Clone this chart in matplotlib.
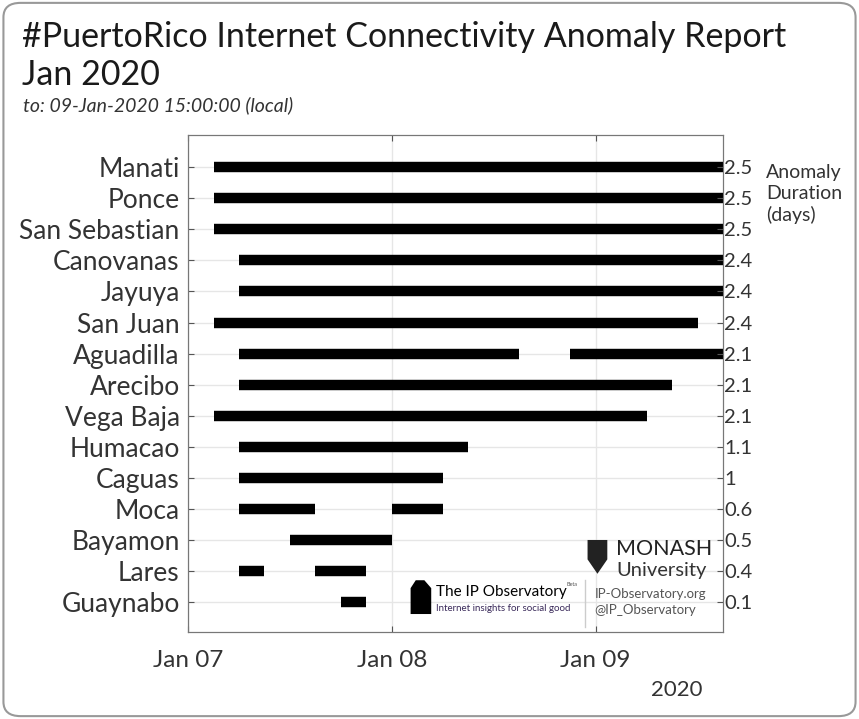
import matplotlib
matplotlib.use("Agg")
import matplotlib.pyplot as plt
import matplotlib.dates as mdates
from matplotlib.patches import FancyBboxPatch, Polygon
from datetime import datetime

plt.rcParams['font.family'] = ['Lato', 'DejaVu Sans']

# towns, top to bottom
cities = ["Manati", "Ponce", "San Sebastian", "Canovanas", "Jayuya", "San Juan",
          "Aguadilla", "Arecibo", "Vega Baja", "Humacao", "Caguas", "Moca",
          "Bayamon", "Lares", "Guaynabo"]

# anomaly periods (local time)
segments = [
    [("2020-01-07 03:00", "2020-01-09 15:00")],
    [("2020-01-07 03:00", "2020-01-09 15:00")],
    [("2020-01-07 03:00", "2020-01-09 15:00")],
    [("2020-01-07 06:00", "2020-01-09 15:00")],
    [("2020-01-07 06:00", "2020-01-09 15:00")],
    [("2020-01-07 03:00", "2020-01-09 12:00")],
    [("2020-01-07 06:00", "2020-01-08 15:00"), ("2020-01-08 21:00", "2020-01-09 15:00")],
    [("2020-01-07 06:00", "2020-01-09 09:00")],
    [("2020-01-07 03:00", "2020-01-09 06:00")],
    [("2020-01-07 06:00", "2020-01-08 09:00")],
    [("2020-01-07 06:00", "2020-01-08 06:00")],
    [("2020-01-07 06:00", "2020-01-07 15:00"), ("2020-01-08 00:00", "2020-01-08 06:00")],
    [("2020-01-07 12:00", "2020-01-08 00:00")],
    [("2020-01-07 06:00", "2020-01-07 09:00"), ("2020-01-07 15:00", "2020-01-07 21:00")],
    [("2020-01-07 18:00", "2020-01-07 21:00")],
]

durations = ["2.5", "2.5", "2.5", "2.4", "2.4", "2.4", "2.1", "2.1", "2.1",
             "1.1", "1", "0.6", "0.5", "0.4", "0.1"]

x_start = "2020-01-07 00:00"
x_end = "2020-01-09 15:00"

fmt = "%Y-%m-%d %H:%M"
txt = "#333333"

fig = plt.figure(figsize=(8.59, 7.19), dpi=100)
fig.patches.append(FancyBboxPatch((0.004, 0.004), 0.992, 0.992,
                                  boxstyle="round,pad=0,rounding_size=0.02",
                                  transform=fig.transFigure, fill=False,
                                  edgecolor="#999999", linewidth=1.5))

ax = fig.add_axes([0.2189, 0.121, 0.6228, 0.6912])
for i, segs in enumerate(segments):
    for s, e in segs:
        ax.hlines(i, datetime.strptime(s, fmt), datetime.strptime(e, fmt),
                  color="black", linewidth=7.5, capstyle="butt", zorder=3)

ax.set_xlim(datetime.strptime(x_start, fmt), datetime.strptime(x_end, fmt))
ax.set_ylim(14.95, -1.03)
ax.set_yticks(range(len(cities)))
ax.set_yticklabels(cities, fontsize=19, color=txt)
ax.xaxis.set_major_locator(mdates.DayLocator())
ax.xaxis.set_major_formatter(mdates.DateFormatter("%b %d"))
ax.tick_params(axis="x", labelsize=17.5, labelcolor=txt, pad=13)
ax.tick_params(axis="y", pad=6)
ax.tick_params(direction="in", length=4, color="#555555", top=True, right=True)
ax.grid(True, color="#e6e6e6", linewidth=1, zorder=0)
for sp in ax.spines.values():
    sp.set_color("#777777")

ax2 = ax.twinx()
ax2.set_ylim(ax.get_ylim())
ax2.set_yticks(range(len(durations)))
ax2.set_yticklabels(durations, fontsize=14.5, color=txt)
ax2.tick_params(direction="in", length=4, color="#555555", pad=1)
for sp in ax2.spines.values():
    sp.set_color("#777777")

fig.text(0.026, 0.9485, "#PuertoRico Internet Connectivity Anomaly Report",
         fontsize=24.5, color="#1a1a1a", va="center", ha="left")
fig.text(0.026, 0.8957, "Jan 2020", fontsize=24.5, color="#1a1a1a", va="center", ha="left")
fig.text(0.027, 0.853, "to: 09-Jan-2020 15:00:00 (local)", fontsize=14,
         style="italic", fontweight="normal", color=txt, va="center")
fig.text(0.892, 0.730, "Anomaly\nDuration\n(days)", fontsize=14, color=txt,
         va="center", ha="left", linespacing=1.25)
fig.text(0.818, 0.040, "2020", fontsize=16, color=txt, ha="right", va="center")

# logos
fig.text(0.829, 0.236, "MONASH", fontsize=15.5, color="#222222", ha="right", va="center")
fig.text(0.823, 0.207, "University", fontsize=14.5, color="#333333", ha="right", va="center")
fig.patches.append(Polygon([(0.684, 0.249), (0.707, 0.249), (0.707, 0.222),
                            (0.6955, 0.202), (0.684, 0.222)], closed=True,
                           transform=fig.transFigure, facecolor="#222222"))
fig.patches.append(Polygon([(0.478, 0.182), (0.484, 0.193), (0.494, 0.193),
                            (0.502, 0.182), (0.502, 0.146), (0.478, 0.146)], closed=True,
                           transform=fig.transFigure, facecolor="black"))
fig.text(0.507, 0.176, "The IP Observatory", fontsize=11, color="black", va="center")
fig.text(0.660, 0.187, "Beta", fontsize=4, color="#555555", va="center")
fig.text(0.507, 0.154, "Internet insights for social good", fontsize=7, color="#3a2a5a",
         va="center")
fig.add_artist(plt.Line2D([0.681, 0.681], [0.128, 0.193], transform=fig.transFigure,
                          color="#cccccc", linewidth=1))
fig.text(0.692, 0.174, "IP-Observatory.org", fontsize=9.5, color="#555555", va="center")
fig.text(0.692, 0.151, "@IP_Observatory", fontsize=9.5, color="#555555", va="center")

fig.savefig("out.png", dpi=100)
